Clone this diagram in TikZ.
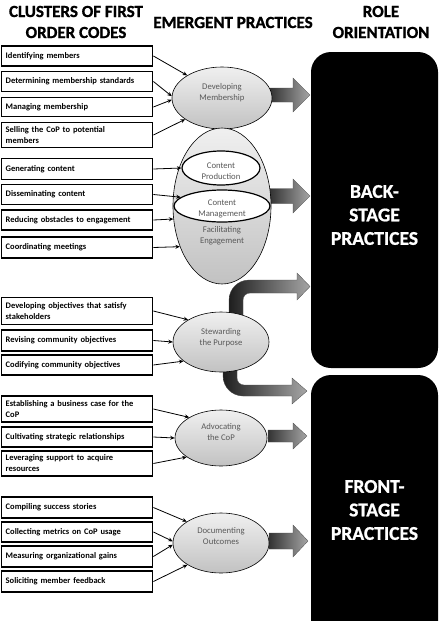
\documentclass[tikz,border=0pt]{standalone}
\usepackage{fontspec}
\setmainfont{Carlito}
\usetikzlibrary{shapes.geometric,arrows.meta}

\begin{document}
\begin{tikzpicture}[x=1pt,y=-1pt,
  header/.style={font=\bfseries\fontsize{17}{21}\selectfont\addfontfeature{FakeBold=1.2}, align=center, inner sep=0pt},
  codebox/.style={draw=black, line width=1.4pt, fill=white, anchor=west,
    inner xsep=4pt, inner ysep=0pt, text width=143pt, align=left,
    font=\bfseries\fontsize{8.5}{11}\selectfont, minimum height=20pt},
  tallbox/.style={codebox, minimum height=25pt},
  pract/.style={ellipse, draw=black, line width=0.6pt, top color=black!6,
    bottom color=black!24, inner sep=0pt},
  subpract/.style={ellipse, draw=black, line width=1.2pt, fill=white, inner sep=0pt},
  ptext/.style={font=\fontsize{8.7}{11}\selectfont, text=black!65, align=center, inner sep=0pt},
  link/.style={-{Stealth[length=4.5pt,width=4pt]}, line width=0.8pt, black},
  blockarrow/.style={draw=black!70, line width=0.3pt, left color=black!80, right color=black!35},
  curvearrow/.style={draw=black!70, line width=0.3pt, left color=black!88, right color=black!35},
  rolebox/.style={fill=black, rounded corners=20pt, minimum width=127pt, inner sep=0pt},
  roletext/.style={font=\bfseries\fontsize{19.5}{23.5}\selectfont\addfontfeature{FakeBold=1}, text=white, align=center, inner sep=0pt}
]
\useasboundingbox (0,0) rectangle (444,621);
\fill[white] (0,0) rectangle (444,621);

% column headings
\node[header] (h1) at (76,22) {CLUSTERS OF FIRST\\ORDER CODES};
\node[header] (h2) at (233,22.5) {EMERGENT PRACTICES};
\node[header] (h3) at (381,22) {ROLE\\ORIENTATION};

% role orientation panels
\node[rolebox, minimum height=316pt] (bs) at (374.5,210) {};
\node[rolebox, minimum height=270pt] (fs) at (374.5,510) {};
\node[roletext] (bst) at (374.5,215) {BACK-\\STAGE\\PRACTICES};
\node[roletext] (fst) at (374.5,510) {FRONT-\\STAGE\\PRACTICES};

% first order codes
\node[codebox] (c1) at (1,56) {Identifying members};
\node[codebox] (c2) at (1,81.5) {Determining membership standards};
\node[codebox, minimum height=19pt] (c3) at (1,107) {Managing membership};
\node[tallbox] (c4) at (1,135) {Selling the CoP to potential\\members};

\node[codebox, minimum height=21pt] (c5) at (1,169) {Generating content};
\node[codebox] (c6) at (1,194.5) {Disseminating content};
\node[codebox] (c7) at (1,220) {Reducing obstacles to engagement};
\node[codebox, minimum height=21pt] (c8) at (1,247.5) {Coordinating meetings};

\node[tallbox, minimum height=27pt] (c9) at (1,311) {Developing objectives that satisfy\\stakeholders};
\node[codebox, minimum height=21pt] (c10) at (1,340.5) {Revising community objectives};
\node[codebox] (c11) at (1,365) {Codifying community objectives};

\node[tallbox, minimum height=26pt] (c12) at (1,409) {Establishing a business case for the\\CoP};
\node[codebox] (c13) at (1,437) {Cultivating strategic relationships};
\node[tallbox] (c14) at (1,463.5) {Leveraging support to acquire\\resources};

\node[codebox, minimum height=21pt] (c15) at (1,507.5) {Compiling success stories};
\node[codebox] (c16) at (1,532) {Collecting metrics on CoP usage};
\node[codebox, minimum height=21pt] (c17) at (1,556.5) {Measuring organizational gains};
\node[codebox, minimum height=21pt] (c18) at (1,581.5) {Soliciting member feedback};

% block arrows towards the role panels
\draw[blockarrow] (270,88) -- (293,88) -- (293,78) -- (310,95) -- (293,112) -- (293,102) -- (270,102) -- cycle;
\draw[blockarrow] (270,188.5) -- (293,188.5) -- (293,179) -- (310,196) -- (293,213) -- (293,203.5) -- (270,203.5) -- cycle;
\draw[blockarrow] (268,430) -- (293,430) -- (293,423) -- (307,436) -- (293,449) -- (293,442) -- (268,442) -- cycle;
\draw[blockarrow] (269,533) -- (293,533) -- (293,525) -- (308,541) -- (293,557) -- (293,549) -- (269,549) -- cycle;

% bent arrows leaving the stewarding practice
\draw[curvearrow] (229,318) -- (229,300) .. controls (229,289) and (238,280) .. (249,280)
  -- (297,280) -- (297,273) -- (310,286.5) -- (297,300) -- (297,293) -- (250,293)
  .. controls (246,293) and (243,296) .. (243,300) -- (243,318) -- cycle;
\draw[curvearrow] (223,364) -- (223,376) .. controls (223,387) and (232,396) .. (243,396)
  -- (292,396) -- (292,404) -- (307,391) -- (292,378) -- (292,385) -- (244,385)
  .. controls (240,385) and (237,382) .. (237,378) -- (237,364) -- cycle;

% emergent practices
\node[pract, minimum width=100pt, minimum height=62pt] (dm) at (222,98) {};
\node[ptext] (dmt) at (222,93) {Developing\\Membership};

\node[pract, minimum width=98pt, minimum height=156pt] (fe) at (222,206) {};
\node[subpract, minimum width=78pt, minimum height=34pt] (cp) at (221,168) {};
\node[subpract, minimum width=96pt, minimum height=32pt] (cm) at (222,206) {};
\node[ptext] (cpt) at (221,171) {Content\\Production};
\node[ptext] (cmt) at (222,209) {Content\\Management};
\node[ptext] (fet) at (222,235.5) {Facilitating\\Engagement};

\node[pract, minimum width=96pt, minimum height=60pt] (sp) at (221,342) {};
\node[ptext] (spt) at (221,337.5) {Stewarding\\the Purpose};

\node[pract, minimum width=92pt, minimum height=56pt] (ac) at (221,438) {};
\node[ptext] (act) at (221,432) {Advocating\\the CoP};

\node[pract, minimum width=96pt, minimum height=60pt] (do) at (221,543) {};
\node[ptext] (dot) at (221,536.5) {Documenting\\Outcomes};

% links from codes to practices
\draw[link] (c1.east) -- (dm.147);
\draw[link] (c2.east) -- (dm.178);
\draw[link] (c3.east) -- (dm.182);
\draw[link] (c4.east) -- (dm.210);

\draw[link] (c5.east) -- (cp.west);
\draw[link] (c6.east) -- (cm.168);
\draw[link] (c7.east) -- (fe.195);
\draw[link] (c8.east) -- (fe.224);

\draw[link] (c9.east) -- (sp.146);
\draw[link] (c10.east) -- (sp.west);
\draw[link] (c11.east) -- (sp.207);

\draw[link] (c12.east) -- (ac.147);
\draw[link] (c13.east) -- (ac.west);
\draw[link] (c14.east) -- (ac.209);

\draw[link] (c15.east) -- (do.148);
\draw[link] (c16.east) -- (do.178);
\draw[link] (c17.east) -- (do.182);
\draw[link] (c18.east) -- (do.213);
\end{tikzpicture}
\end{document}
